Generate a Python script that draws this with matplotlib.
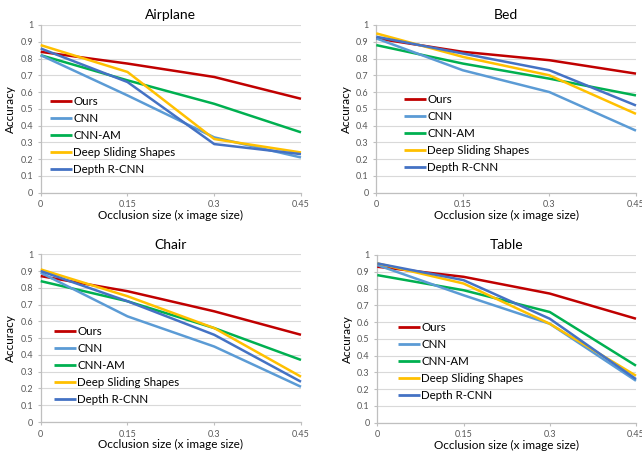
import matplotlib
matplotlib.use("Agg")
import matplotlib.pyplot as plt

plt.rcParams['font.family'] = ['Lato', 'DejaVu Sans']

x_labels = ["0", "0.15", "0.3", "0.45"]
series_names = ["Ours", "CNN", "CNN-AM", "Deep Sliding Shapes", "Depth R-CNN"]
colors = ["#C00000", "#5B9BD5", "#00B050", "#FFC000", "#4472C4"]
draw_order = [0, 2, 1, 3, 4]

airplane = {
    "Ours": [0.84, 0.77, 0.69, 0.56],
    "CNN": [0.82, 0.58, 0.33, 0.21],
    "CNN-AM": [0.82, 0.67, 0.53, 0.36],
    "Deep Sliding Shapes": [0.88, 0.72, 0.32, 0.24],
    "Depth R-CNN": [0.86, 0.66, 0.29, 0.23],
}
bed = {
    "Ours": [0.92, 0.84, 0.79, 0.71],
    "CNN": [0.92, 0.73, 0.60, 0.37],
    "CNN-AM": [0.88, 0.77, 0.68, 0.58],
    "Deep Sliding Shapes": [0.95, 0.81, 0.70, 0.47],
    "Depth R-CNN": [0.93, 0.83, 0.73, 0.52],
}
chair = {
    "Ours": [0.87, 0.78, 0.66, 0.52],
    "CNN": [0.89, 0.63, 0.45, 0.21],
    "CNN-AM": [0.84, 0.72, 0.56, 0.37],
    "Deep Sliding Shapes": [0.91, 0.75, 0.56, 0.27],
    "Depth R-CNN": [0.90, 0.72, 0.52, 0.24],
}
table = {
    "Ours": [0.93, 0.87, 0.77, 0.62],
    "CNN": [0.94, 0.76, 0.59, 0.25],
    "CNN-AM": [0.88, 0.79, 0.66, 0.34],
    "Deep Sliding Shapes": [0.95, 0.83, 0.59, 0.28],
    "Depth R-CNN": [0.95, 0.85, 0.62, 0.26],
}

W, H = 642, 451
fig = plt.figure(figsize=(W / 100, H / 100), dpi=100)

# (title, data, left, right, top, bottom, legend_left, legend_top) in pixels
panels = [
    ("Airplane", airplane, 40.7, 301, 25, 192.7, 50, 96),
    ("Bed", bed, 376.3, 636, 25, 192.7, 404, 94),
    ("Chair", chair, 40.7, 301, 254.3, 422, 54, 326),
    ("Table", table, 377.3, 636, 255, 422.7, 398, 322),
]

grey_txt = "#595959"
for title, data, l, r, t, b, lx, ly in panels:
    ax = fig.add_axes([l / W, 1 - b / H, (r - l) / W, (b - t) / H])
    xs = list(range(len(x_labels)))
    handles = {}
    for i in draw_order:
        name = series_names[i]
        h, = ax.plot(xs, data[name], color=colors[i], lw=1.8, solid_capstyle='butt',
                     clip_on=False, zorder=3)
        handles[name] = h
    ax.set_xlim(0, len(x_labels) - 1)
    ax.set_ylim(0, 1)
    ax.set_xticks(xs)
    ax.set_xticklabels(x_labels)
    ax.set_yticks([i / 10 for i in range(11)])
    ax.set_yticklabels(["0", "0.1", "0.2", "0.3", "0.4", "0.5", "0.6", "0.7", "0.8", "0.9", "1"])
    ax.grid(axis='y', color='#D9D9D9', lw=0.8, zorder=0)
    ax.set_axisbelow(True)
    for s in ["top", "right"]:
        ax.spines[s].set_visible(False)
    for s in ["left", "bottom"]:
        ax.spines[s].set_color("#BFBFBF")
        ax.spines[s].set_linewidth(0.9)
    ax.tick_params(axis='both', colors='#BFBFBF', labelcolor=grey_txt, labelsize=6.5,
                   length=2.5, width=0.8, direction='out', pad=3)
    ax.tick_params(axis='x', pad=3)
    ax.set_title(title, fontsize=10, pad=4, color='#000000')
    ax.set_xlabel("Occlusion size (x image size)", fontsize=8.5, labelpad=0.5)
    ax.set_ylabel("Accuracy", fontsize=8.5, labelpad=3)
    ax_w = r - l
    ax_h = b - t
    leg = ax.legend([handles[n] for n in series_names], series_names,
                    loc='upper left',
                    bbox_to_anchor=((lx - l) / ax_w, (b - ly) / ax_h),
                    frameon=False, fontsize=8.3, handlelength=1.9,
                    handletextpad=0.1, labelspacing=0.52, borderpad=0,
                    borderaxespad=0)
    for line in leg.get_lines():
        line.set_linewidth(2.0)

fig.savefig("out.png", dpi=100)
